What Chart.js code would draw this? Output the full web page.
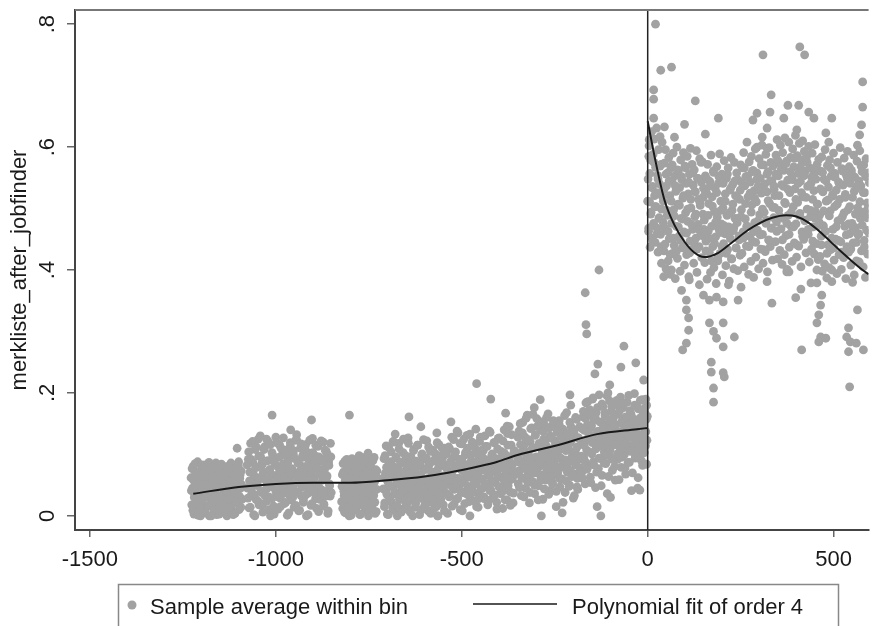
<!DOCTYPE html>
<html>
<head>
<meta charset="utf-8">
<script src="https://cdn.jsdelivr.net/npm/chart.js@4.4.1/dist/chart.umd.min.js"></script>
<style>
  html, body { margin: 0; padding: 0; background: #fff; }
</style>
</head>
<body>
<canvas id="rd-chart" width="873" height="626"></canvas>
<script>
const FONT = "'Liberation Sans', Arial, Helvetica, sans-serif"
const DOT_COLOR = '#a2a2a2'
const INK = '#1a1a1a'

const xTicks = [-1500, -1000, -500, 0, 500]
const yTicks = [0, 0.2, 0.4, 0.6, 0.8]
const yTitle = 'merkliste_after_jobfinder'
const legendLabels = ['Sample average within bin', 'Polynomial fit of order 4']

// bins before the cutoff: [first bin, last bin] and the bin averages
const leftBinRanges = [[-1228, -1092], [-1076, -852], [-822, -728], [-710, -538], [-536, -358], [-350, -182], [-178, -2]]
const leftA = [.062,.018,.045,.081,.003,.034,.071,.052,.012,.088,.027,.058,.041,.000,.075,.021,.066,.049,.008,.083,
  .036,.055,.015,.070,.030,.000,.061,.044,.079,.024,.050,.010,.068,.038,.086,.002,.057,.029,.073,.047,
  .016,.064,.033,.080,.006,.053,.025,.069,.040,.000,.077,.019,.059,.035,.084,.011,.048,.072,.028,.063,
  .004,.043,.078,.022,.056,.088,.032,.067,.014,.051]
const leftB = [.045,.092,.013,.071,.118,.034,.056,.087,.002,.064,.108,.027,.079,.049,.125,.018,.060,.097,.038,.083,
  .006,.070,.112,.042,.089,.024,.057,.121,.031,.075,.000,.066,.103,.047,.016,.094,.053,.128,.036,.081,
  .011,.068,.115,.029,.059,.099,.043,.085,.020,.073,.107,.051,.001,.091,.035,.063,.119,.026,.077,.046,
  .100,.014,.069,.123,.039,.055,.086,.008,.072,.110,.033,.061,.095,.022,.080,.048,.116,.000,.067,.037,
  .102,.054,.090,.017,.076,.126,.041,.062,.098,.028,.084,.050,.113,.007,.070,.044,.093,.030,.058,.120,
  .019,.078,.040,.105,.065,.004,.088,.052,.032,.096]
const leftC = [.048,.012,.071,.033,.089,.005,.060,.024,.079,.041,.000,.066,.018,.052,.093,.029,.075,.009,.058,.037,
  .084,.015,.063,.044,.098,.002,.070,.027,.055,.086,.020,.047,.077,.010,.064,.035,.091,.000,.057,.026,
  .081,.043,.013,.068,.038,.095,.022,.059,.007,.073]
const leftD1 = [.062,.015,.098,.041,.079,.003,.055,.112,.030,.071,.088,.022,.047,.121,.009,.066,.036,.094,.052,.000,
  .076,.118,.027,.059,.085,.043,.011,.103,.068,.034,.090,.050,.019,.074,.127,.038,.061,.006,.096,.045,
  .081,.025,.108,.057,.014,.070,.033,.115,.049,.087,.002,.064,.040,.099,.028,.077,.053,.017,.092,.035,
  .122,.060,.008,.083,.046,.105,.023,.069,.039,.089,.012,.056,.101,.031,.073,.000,.048,.116,.065,.026,
  .084,.042,.095,.018,.058,.110,.037,.078,.051,.004]
const leftD2 = [.072,.031,.108,.055,.089,.016,.064,.124,.043,.097,.080,.027,.061,.135,.048,.092,.010,.075,.117,.038,
  .086,.057,.020,.103,.068,.131,.046,.083,.033,.000,.099,.062,.120,.040,.078,.024,.110,.052,.088,.070,
  .014,.096,.035,.128,.059,.081,.045,.106,.028,.074,.113,.050,.090,.018,.066,.138,.041,.084,.058,.101,
  .030,.077,.119,.054,.093,.022,.069,.126,.047,.087,.036,.105,.063,.012,.082,.140,.049,.098,.071,.026,
  .115,.056,.091,.039,.079,.132,.060,.021,.102,.067]
const leftE1 = [.095,.052,.138,.074,.116,.033,.089,.152,.061,.107,.128,.045,.082,.164,.067,.099,.021,.121,.078,.143,
  .056,.111,.087,.036,.132,.070,.158,.093,.049,.118,.081,.140,.063,.102,.027,.125,.085,.147,.058,.113,
  .072,.166,.097,.041,.130,.076,.109,.054,.149,.088,.066,.122,.015,.100,.136,.079,.155,.047,.115,.092,
  .060,.141,.083,.124,.038,.106,.168,.071,.131,.090,.050,.119,.145,.064,.103,.029,.135,.086,.160,.068,
  .112,.043,.127,.095,.075]
const leftE2 = [.118,.072,.161,.095,.139,.052,.184,.107,.148,.081,.127,.173,.063,.144,.101,.190,.088,.156,.120,.046,
  .168,.112,.135,.077,.197,.129,.093,.152,.066,.178,.140,.104,.163,.085,.125,.036,.149,.110,.187,.097,
  .133,.170,.074,.158,.116,.142,.058,.181,.124,.092,.165,.137,.105,.193,.079,.150,.121,.176,.099,.146,
  .068,.131,.185,.113,.155,.087,.171,.128,.041,.160,.108,.143,.199,.094,.136,.179,.117,.062,.153,.126,
  .188,.101,.147,.082,.167,.134,.175,.114,.157,.123]
const leftBinValues = [leftA, leftB, leftC, leftD1, leftD2, leftE1, leftE2]

// second set of bins, sitting between the first ones
const leftBinRanges2 = [[-1227, -1091], [-1077, -851], [-823, -727], [-711, -539], [-537, -357], [-351, -181], [-179, -1]]
const leftA2 = [.041,.077,.009,.058,.030,.085,.020,.067,.046,.001,.072,.037,.054,.013,.083,.026,.062,.044,.079,.005,
  .051,.033,.069,.017,.087,.040,.060,.000,.074,.028,.056,.011,.081,.035,.065,.023,.048,.076,.003,.059,
  .031,.084,.019,.070,.042,.063,.007,.053,.080,.025,.038,.071,.014,.057,.086,.029,.049,.002,.066,.039,
  .078,.021,.055,.034,.082,.010,.061,.045,.073,.027]
const leftB2 = [.083,.029,.104,.057,.014,.092,.046,.121,.068,.035,.000,.079,.112,.051,.024,.097,.062,.130,.040,.086,
  .019,.071,.108,.033,.058,.125,.045,.090,.010,.075,.116,.053,.028,.099,.066,.003,.084,.041,.119,.060,
  .031,.095,.073,.015,.110,.048,.081,.127,.037,.064,.022,.101,.056,.088,.005,.077,.114,.043,.069,.030,
  .106,.052,.093,.017,.124,.061,.039,.085,.009,.072,.117,.047,.098,.026,.065,.109,.034,.080,.054,.002,
  .091,.123,.044,.070,.020,.103,.059,.087,.036,.115,.012,.078,.050,.096,.027,.067,.122,.042,.089,.016,
  .074,.107,.032,.063,.100,.008,.082,.049,.118,.038]
const leftC2 = [.023,.067,.085,.040,.006,.058,.031,.092,.049,.014,.076,.036,.061,.001,.083,.045,.027,.070,.053,.011,
  .088,.034,.064,.019,.078,.042,.003,.057,.095,.030,.069,.016,.051,.087,.025,.073,.039,.060,.008,.082,
  .046,.021,.066,.090,.033,.055,.004,.075,.043,.062]
const leftD1b = [.044,.093,.021,.070,.114,.035,.058,.002,.085,.049,.026,.104,.067,.013,.080,.120,.039,.061,.096,.017,
  .074,.052,.109,.030,.087,.006,.064,.042,.125,.071,.024,.098,.055,.081,.011,.118,.047,.068,.033,.091,
  .059,.000,.106,.037,.078,.020,.089,.063,.115,.046,.029,.083,.066,.010,.101,.054,.124,.040,.075,.018,
  .094,.060,.031,.112,.050,.086,.004,.072,.043,.107,.057,.023,.092,.069,.015,.119,.038,.079,.053,.097,
  .027,.065,.110,.048,.084,.008,.062,.100,.036,.076]
const leftD2b = [.058,.112,.033,.087,.069,.128,.046,.095,.019,.077,.104,.052,.138,.029,.083,.061,.118,.040,.092,.008,
  .073,.125,.054,.099,.036,.081,.110,.064,.023,.133,.048,.090,.070,.116,.038,.086,.057,.141,.015,.101,
  .066,.028,.121,.079,.044,.107,.060,.094,.031,.130,.075,.051,.113,.089,.025,.067,.136,.042,.098,.080,
  .055,.119,.034,.085,.071,.011,.109,.063,.127,.047,.093,.078,.039,.122,.059,.102,.026,.088,.068,.134,
  .049,.096,.076,.017,.115,.062,.084,.037,.106,.072]
const leftE1b = [.071,.128,.088,.046,.150,.103,.062,.135,.084,.031,.117,.077,.159,.098,.055,.124,.091,.038,.142,.069,
  .110,.165,.081,.050,.131,.096,.073,.146,.026,.114,.087,.058,.153,.101,.067,.137,.044,.120,.093,.160,
  .076,.108,.035,.143,.089,.063,.126,.052,.155,.099,.082,.118,.040,.138,.070,.106,.148,.060,.094,.129,
  .079,.022,.115,.163,.091,.057,.134,.085,.111,.048,.152,.074,.123,.097,.066,.140,.033,.105,.083,.157,
  .061,.127,.092,.145,.078]
const leftE2b = [.097,.142,.061,.170,.115,.089,.158,.124,.076,.186,.135,.104,.165,.054,.147,.119,.192,.083,.131,.160,
  .109,.071,.176,.138,.094,.153,.122,.049,.182,.113,.145,.086,.168,.130,.099,.195,.121,.064,.156,.107,
  .139,.178,.092,.127,.163,.080,.149,.116,.188,.101,.134,.059,.172,.125,.095,.154,.111,.183,.140,.078,
  .161,.118,.147,.087,.196,.129,.105,.166,.136,.070,.152,.117,.180,.098,.143,.126,.045,.174,.110,.159,
  .132,.090,.189,.123,.150,.103,.167,.137,.084,.162]
const leftBinValues2 = [leftA2, leftB2, leftC2, leftD1b, leftD2b, leftE1b, leftE2b]

const leftOutliers = [[-1104,.110],[-1010,.164],[-960,.140],[-944,.132],[-904,.156],[-802,.164],[-752,.102],
  [-679,.133],[-642,.161],[-610,.145],[-567,.135],[-529,.153],[-460,.215],[-422,.190],[-382,.167],[-378,.146],
  [-372,.145],[-305,.176],[-289,.189],[-209,.197],[-207,.180],[-168,.363],[-166,.311],[-164,.296],[-131,.400],
  [-134,.247],[-142,.231],[-107,.200],[-102,.213],[-72,.242],[-64,.276],[-32,.249],[-11,.221],[-5,.190],[-3,.180],
  [-286,.000],[-126,.000],[-136,.015],[-190,.047],[-21,.042],[-564,.000],[-230,.005],[-100,.030]]

// bins after the cutoff
const rightBinRanges = [[1, 40], [42, 150], [152, 250], [252, 340], [342, 460], [462, 596]]
const right1 = [.548,.463,.602,.511,.437,.579,.494,.625,.452,.536,.588,.476,.613,.521,.445,.567,.503,.631,.468,.554,
  .429,.596,.485,.540,.617,.458,.572,.499,.608,.530]
const right2 = [.512,.431,.574,.468,.596,.402,.537,.489,.558,.415,.583,.451,.521,.393,.566,.476,.545,.427,.590,.498,
  .440,.553,.386,.528,.471,.600,.419,.507,.562,.455,.534,.398,.579,.484,.547,.436,.517,.591,.462,.408,
  .569,.493,.541,.425,.585,.479,.524,.389,.556,.447,.598,.501,.433,.572,.466,.538,.411,.563,.487,.527,
  .452,.594,.396,.549,.474,.515,.438,.581,.505,.460,.543,.420,.576,.491,.533]
const right3 = [.481,.412,.553,.447,.526,.385,.572,.463,.508,.429,.544,.396,.587,.471,.519,.438,.561,.404,.495,.533,
  .454,.378,.568,.486,.415,.541,.466,.589,.427,.512,.475,.556,.392,.501,.443,.578,.459,.524,.407,.549,
  .489,.433,.566,.470,.382,.530,.451,.583,.418,.497,.539,.464,.402,.575,.484,.521,.436,.558,.477,.399,
  .546,.455,.515,.424,.571]
const right4 = [.498,.427,.566,.462,.591,.405,.537,.483,.552,.439,.608,.471,.519,.393,.576,.455,.543,.414,.585,.506,
  .447,.562,.388,.529,.477,.597,.421,.511,.558,.465,.536,.402,.581,.490,.549,.434,.525,.603,.458,.411,
  .571,.494,.540,.430,.588,.481,.527,.397,.560,.449,.599,.508,.438,.575,.468,.545,.416,.569,.485,.531]
const right5 = [.521,.446,.587,.478,.612,.418,.553,.497,.574,.432,.603,.467,.539,.409,.591,.484,.562,.425,.615,.508,
  .456,.577,.401,.546,.489,.608,.437,.526,.583,.471,.550,.414,.597,.503,.568,.444,.532,.619,.475,.421,
  .586,.510,.557,.439,.606,.492,.544,.405,.579,.462,.610,.519,.450,.593,.481,.561,.428,.584,.499,.536,
  .458,.601,.413,.566,.487,.541,.434,.590,.515,.470,.555,.426,.604,.495,.548,.443,.572,.507,.417,.580]
const right6 = [.489,.422,.561,.455,.584,.398,.527,.472,.548,.410,.596,.463,.512,.387,.570,.441,.535,.404,.579,.496,
  .433,.553,.381,.520,.466,.590,.416,.503,.557,.450,.530,.394,.575,.480,.543,.425,.515,.599,.446,.401,
  .565,.487,.538,.420,.582,.471,.523,.386,.554,.438,.593,.498,.429,.568,.459,.541,.408,.562,.476,.518,
  .444,.587,.392,.551,.469,.532,.415,.577,.501,.457,.545,.413,.594,.484,.537,.431,.560,.494,.405,.571,
  .448,.526,.388,.581,.465,.509,.426,.558,.491,.542]
const rightBinValues = [right1, right2, right3, right4, right5, right6]

// second, sparser set after the cutoff: these sit in the core of the cloud
const rightBinRanges2 = [[0, 39], [41, 149], [151, 249], [251, 339], [341, 459], [461, 595]]
const right1b = [.512,.468,.557,.491,.534,.447,.575,.503,.526,.459,.548,.484,.569,.438,.520]
const right2b = [.478,.531,.442,.556,.497,.463,.545,.425,.512,.571,.452,.488,.537,.430,.563,.470,.505,.448,.552,.483,
  .521,.437,.566,.460,.499,.543,.428,.515,.474,.558,.445,.528,.491,.434,.549,.466,.509,.575,.456,.518]
const right3b = [.466,.523,.431,.548,.489,.452,.537,.415,.504,.559,.443,.478,.526,.421,.552,.461,.497,.438,.541,.472,
  .512,.427,.556,.458,.493,.533,.418,.507,.469,.545,.436,.519,.484,.449,.530]
const right4b = [.487,.541,.452,.566,.508,.471,.553,.438,.525,.494,.560,.462,.517,.445,.548,.480,.533,.457,.571,.499,
  .433,.529,.476,.556,.513,.448,.545,.468,.502,.537]
const right5b = [.502,.556,.463,.578,.521,.487,.564,.449,.536,.510,.573,.476,.531,.458,.560,.494,.547,.470,.582,.515,
  .441,.541,.489,.568,.526,.455,.553,.480,.518,.575,.466,.538,.497,.551,.447,.529,.484,.562,.507,.472]
const right6b = [.478,.532,.441,.559,.496,.463,.545,.427,.514,.488,.566,.452,.523,.436,.551,.470,.507,.448,.540,.482,
  .429,.561,.493,.518,.457,.548,.475,.503,.434,.555,.467,.528,.491,.445,.537,.459,.511,.569,.473,.526,
  .438,.552,.485,.500,.460]
const rightBinValues2 = [right1b, right2b, right3b, right4b, right5b, right6b]

const rightOutliers = [[21,.800],[35,.725],[64,.730],[16,.693],[16,.678],[128,.675],[190,.647],[99,.637],[155,.621],
  [16,.647],[283,.644],[310,.750],[409,.763],[422,.750],[578,.706],[332,.685],[578,.665],[377,.668],[406,.668],
  [294,.655],[329,.657],[433,.657],[447,.647],[495,.647],[366,.647],[575,.636],[321,.631],[401,.628],[308,.616],
  [479,.623],[487,.608],[570,.620],[564,.603],[321,.598],[294,.600],[45,.633],[72,.616],[4,.612],[3,.585],
  [37,.411],[43,.389],[64,.400],[91,.367],[104,.351],[104,.335],[110,.322],[110,.302],[104,.281],[94,.270],
  [112,.384],[139,.376],[150,.359],[166,.351],[185,.356],[203,.348],[217,.376],[243,.351],[251,.372],[166,.314],
  [177,.300],[185,.289],[203,.314],[203,.275],[233,.291],[171,.250],[171,.234],[203,.233],[206,.226],[177,.208],
  [177,.185],[334,.346],[321,.381],[380,.397],[398,.355],[412,.369],[439,.379],[455,.379],[468,.359],[465,.343],
  [460,.327],[455,.314],[465,.291],[479,.289],[460,.283],[414,.270],[540,.306],[535,.291],[545,.283],[561,.281],
  [540,.267],[580,.270],[543,.210],[564,.335],[551,.380],[455,.400],[495,.400],[374,.397]]

// quartic fit
const fitLeftX = [-1222, -1100, -1000, -900, -800, -700, -600, -537, -450, -404, -350, -243, -136, -29, 0]
const fitLeftY = [.036, .047, .052, .054, .054, .058, .064, .070, .081, .088, .099, .115, .133, .141, .143]
const fitRightX = [0, 20, 45, 72, 99, 126, 152, 190, 225, 270, 300, 335, 372, 400, 430, 460, 490, 520, 550, 578, 594]
const fitRightY = [.642, .580, .514, .473, .446, .428, .421, .428, .444, .465, .476, .485, .489, .487, .478, .464, .447, .430, .414, .400, .393]

const X_MIN = -1540, X_MAX = 594
const Y_MIN = -0.023, Y_MAX = 0.823

function binPoints(ranges, values) {
    const pts = []
    ranges.forEach(([from, to], k) => {
        const ys = values[k]
        const step = (to - from) / (ys.length - 1)
        ys.forEach((y, i) => pts.push({ x: from + i * step, y: y }))
    })
    return pts
}

const scatterData = [
    ...binPoints(leftBinRanges, leftBinValues),
    ...binPoints(leftBinRanges2, leftBinValues2),
    ...leftOutliers.map(p => ({ x: p[0], y: p[1] })),
    ...binPoints(rightBinRanges, rightBinValues),
    ...binPoints(rightBinRanges2, rightBinValues2),
    ...rightOutliers.map(p => ({ x: p[0], y: p[1] })),
]

const stataFrame = {
    id: 'stataFrame',
    afterDraw(chart) {
        const { ctx, chartArea } = chart
        ctx.save()
        // top border of the plot region
        ctx.strokeStyle = '#777'
        ctx.lineWidth = 2
        ctx.beginPath()
        ctx.moveTo(chartArea.left, chartArea.top)
        ctx.lineTo(chartArea.right, chartArea.top)
        ctx.stroke()

        // legend box
        const boxL = 118, boxT = 584, boxW = 720, boxH = 60
        ctx.fillStyle = '#fff'
        ctx.fillRect(boxL, boxT, boxW, boxH)
        ctx.strokeStyle = '#888'
        ctx.lineWidth = 1.5
        ctx.strokeRect(boxL + 0.5, boxT + 0.5, boxW, boxH)

        const midY = 605
        ctx.fillStyle = DOT_COLOR
        ctx.beginPath()
        ctx.arc(132, midY, 4.5, 0, Math.PI * 2)
        ctx.fill()

        ctx.strokeStyle = INK
        ctx.lineWidth = 1.6
        ctx.beginPath()
        ctx.moveTo(473, midY - 1)
        ctx.lineTo(557, midY - 1)
        ctx.stroke()

        ctx.fillStyle = INK
        ctx.font = '22px ' + FONT
        ctx.textBaseline = 'alphabetic'
        ctx.fillText(legendLabels[0], 150, 614)
        ctx.fillText(legendLabels[1], 572, 614)
        ctx.restore()
    }
}

new Chart(document.getElementById('rd-chart'), {
    type: 'scatter',
    data: {
        datasets: [
            {
                data: [{ x: 0, y: Y_MIN }, { x: 0, y: Y_MAX }],
                showLine: true,
                borderColor: '#222',
                borderWidth: 1.5,
                pointRadius: 0,
            },
            {
                data: fitLeftX.map((x, i) => ({ x: x, y: fitLeftY[i] })),
                showLine: true,
                borderColor: INK,
                borderWidth: 2,
                pointRadius: 0,
                cubicInterpolationMode: 'monotone',
            },
            {
                data: fitRightX.map((x, i) => ({ x: x, y: fitRightY[i] })),
                showLine: true,
                borderColor: INK,
                borderWidth: 2,
                pointRadius: 0,
                cubicInterpolationMode: 'monotone',
            },
            {
                data: scatterData,
                pointRadius: 4.4,
                pointBackgroundColor: DOT_COLOR,
                pointBorderWidth: 0,
                borderWidth: 0,
            }
        ]
    },
    options: {
        responsive: false,
        animation: false,
        layout: { padding: { top: 10, right: 0, bottom: 0, left: 0 } },
        plugins: {
            legend: { display: false },
            tooltip: { enabled: false },
        },
        scales: {
            x: {
                type: 'linear',
                min: X_MIN,
                max: X_MAX,
                afterBuildTicks: scale => { scale.ticks = xTicks.map(v => ({ value: v })) },
                afterFit: scale => { scale.height = 96; scale.paddingLeft = 0; scale.paddingRight = 0 },
                ticks: {
                    color: INK,
                    font: { family: FONT, size: 22 },
                    padding: 10,
                    maxRotation: 0,
                    callback: v => String(v),
                },
                grid: { drawOnChartArea: false, drawTicks: true, tickLength: 7, color: '#666', lineWidth: 1.5 },
                border: { display: true, color: '#444', width: 2 },
            },
            y: {
                type: 'linear',
                min: Y_MIN,
                max: Y_MAX,
                afterBuildTicks: scale => { scale.ticks = yTicks.map(v => ({ value: v })) },
                afterFit: scale => { scale.width = 75; scale.paddingTop = 0; scale.paddingBottom = 0 },
                ticks: {
                    color: INK,
                    font: { family: FONT, size: 22 },
                    minRotation: 90,
                    maxRotation: 90,
                    crossAlign: 'center',
                    padding: 10,
                    callback: v => v === 0 ? '0' : String(v).replace('0.', '.'),
                },
                grid: { drawOnChartArea: false, drawTicks: true, tickLength: 8, color: '#666', lineWidth: 1.5 },
                border: { display: true, color: '#444', width: 2 },
                title: {
                    display: true,
                    text: yTitle,
                    color: INK,
                    font: { family: FONT, size: 22 },
                    padding: { top: 7, bottom: 0 },
                },
            }
        }
    },
    plugins: [stataFrame]
})
</script>
</body>
</html>
